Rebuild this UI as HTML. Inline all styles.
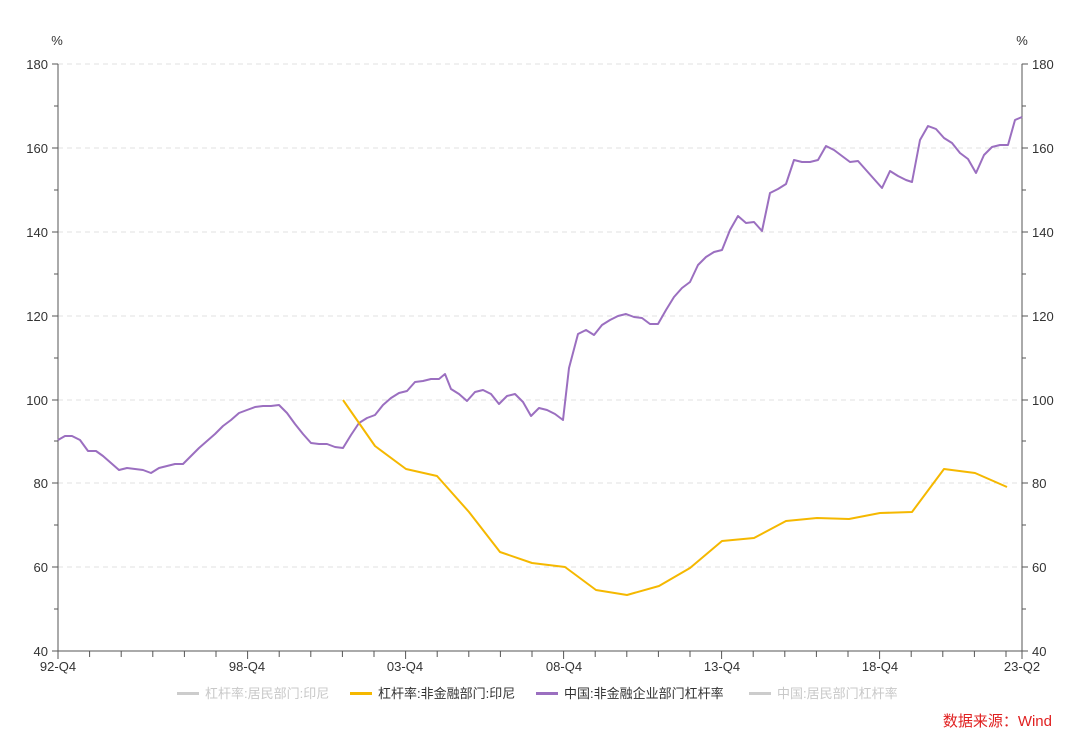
<!DOCTYPE html>
<html><head><meta charset="utf-8"><style>
body{margin:0;background:#fff;}
svg text{font-family:"Liberation Sans","Noto Sans CJK SC",sans-serif;}
</style></head><body>
<svg width="1080" height="744" xmlns="http://www.w3.org/2000/svg">
<g stroke="#e2e2e2" stroke-dasharray="5,4" stroke-width="1">
<line x1="58" x2="1022" y1="64" y2="64"/><line x1="58" x2="1022" y1="148" y2="148"/><line x1="58" x2="1022" y1="232" y2="232"/><line x1="58" x2="1022" y1="316" y2="316"/><line x1="58" x2="1022" y1="400" y2="400"/><line x1="58" x2="1022" y1="483" y2="483"/><line x1="58" x2="1022" y1="567" y2="567"/>
</g>
<g stroke="#555" stroke-width="1">
<line x1="58" y1="64" x2="58" y2="651"/><line x1="1022" y1="64" x2="1022" y2="651"/><line x1="58" y1="651" x2="1022" y2="651"/>
<path d="M52 64h6M52 148h6M52 232h6M52 316h6M52 400h6M52 483h6M52 567h6M52 651h6M54 106h4M54 190h4M54 274h4M54 358h4M54 441h4M54 525h4M54 609h4
M1022 64h6M1022 148h6M1022 232h6M1022 316h6M1022 400h6M1022 483h6M1022 567h6M1022 651h6M1022 106h4M1022 190h4M1022 274h4M1022 358h4M1022 441h4M1022 525h4M1022 609h4"/>
<path d="M58 651v8M89.6 651v6M121.2 651v6M152.8 651v6M184.4 651v6M216 651v6M247.6 651v8M279.2 651v6M310.8 651v6M342.4 651v6M374 651v6M405.6 651v8M437.2 651v6M468.8 651v6M500.4 651v6M532 651v6M563.6 651v8M595.2 651v6M626.8 651v6M658.4 651v6M690 651v6M721.6 651v8M753.2 651v6M784.8 651v6M816.4 651v6M848 651v6M879.6 651v8M911.2 651v6M942.8 651v6M974.4 651v6M1006 651v6M1022 651v8"/>
</g>
<g font-size="13" fill="#333">
<text x="57" y="45" text-anchor="middle">%</text><text x="1022" y="45" text-anchor="middle">%</text>
<g text-anchor="end"><text x="48" y="69">180</text><text x="48" y="153">160</text><text x="48" y="237">140</text><text x="48" y="321">120</text><text x="48" y="405">100</text><text x="48" y="488">80</text><text x="48" y="572">60</text><text x="48" y="656">40</text></g>
<g><text x="1032" y="69">180</text><text x="1032" y="153">160</text><text x="1032" y="237">140</text><text x="1032" y="321">120</text><text x="1032" y="405">100</text><text x="1032" y="488">80</text><text x="1032" y="572">60</text><text x="1032" y="656">40</text></g>
<g text-anchor="middle"><text x="58" y="671">92-Q4</text><text x="247" y="671">98-Q4</text><text x="405" y="671">03-Q4</text><text x="564" y="671">08-Q4</text><text x="722" y="671">13-Q4</text><text x="880" y="671">18-Q4</text><text x="1022" y="671">23-Q2</text></g>
</g>
<polyline fill="none" stroke="#9b6fc0" stroke-width="2" stroke-linejoin="round" points="58,440 65,436 72,436 80,440 88,451 96,451 103,456 111,463 119,470 127,468 135,469 143,470 151,473 159,468 167,466 175,464 183,464 191,456 199,448 207,441 215,434 223,426 231,420 239,413 247,410 255,407 263,406 271,406 279,405 287,413 295,424 303,434 311,443 319,444 327,444 335,447 343,448 351,435 359,423 367,418 375,415 383,405 391,398 399,393 407,391 415,382 423,381 431,379 439,379 445,374 451,389 459,394 467,401 475,392 483,390 491,394 499,404 507,396 515,394 523,402 531,416 539,408 547,410 555,414 563,420 569,368 578,334 586,330 594,335 602,325 610,320 618,316 626,314 634,317 642,318 650,324 658,324 666,310 674,297 682,288 690,282 698,265 706,257 714,252 722,250 730,230 738,216 746,223 754,222 762,231 770,193 778,189 786,184 794,160 802,162 810,162 818,160 826,146 834,150 842,156 850,162 858,161 866,170 874,179 882,188 890,171 898,176 906,180 912,182 920,140 928,126 936,129 944,138 952,143 960,153 968,159 976,173 984,155 992,147 1000,145 1008,145 1015,120 1022,117"/>
<polyline fill="none" stroke="#f5b800" stroke-width="2" stroke-linejoin="round" points="343,400 375,446 406,469 437,476 469,512 500,552 532,563 565,567 596,590 627,595 659,586 690,568 722,541 754,538 786,521 817,518 849,519 880,513 912,512 944,469 975,473 1007,487"/>
<g font-size="13">
<rect x="177" y="692" width="22" height="3" fill="#ccc"/><text x="205" y="698" fill="#c8c8c8">杠杆率:居民部门:印尼</text>
<rect x="350" y="692" width="22" height="3" fill="#f5b800"/><text x="378" y="698" fill="#333">杠杆率:非金融部门:印尼</text>
<rect x="536" y="692" width="22" height="3" fill="#9b6fc0"/><text x="564" y="698" fill="#333">中国:非金融企业部门杠杆率</text>
<rect x="749" y="692" width="22" height="3" fill="#ccc"/><text x="777" y="698" fill="#c8c8c8">中国:居民部门杠杆率</text>
<text x="1052" y="726" fill="#e02020" font-size="15" text-anchor="end">数据来源：Wind</text>
</g>
</svg>
</body></html>
